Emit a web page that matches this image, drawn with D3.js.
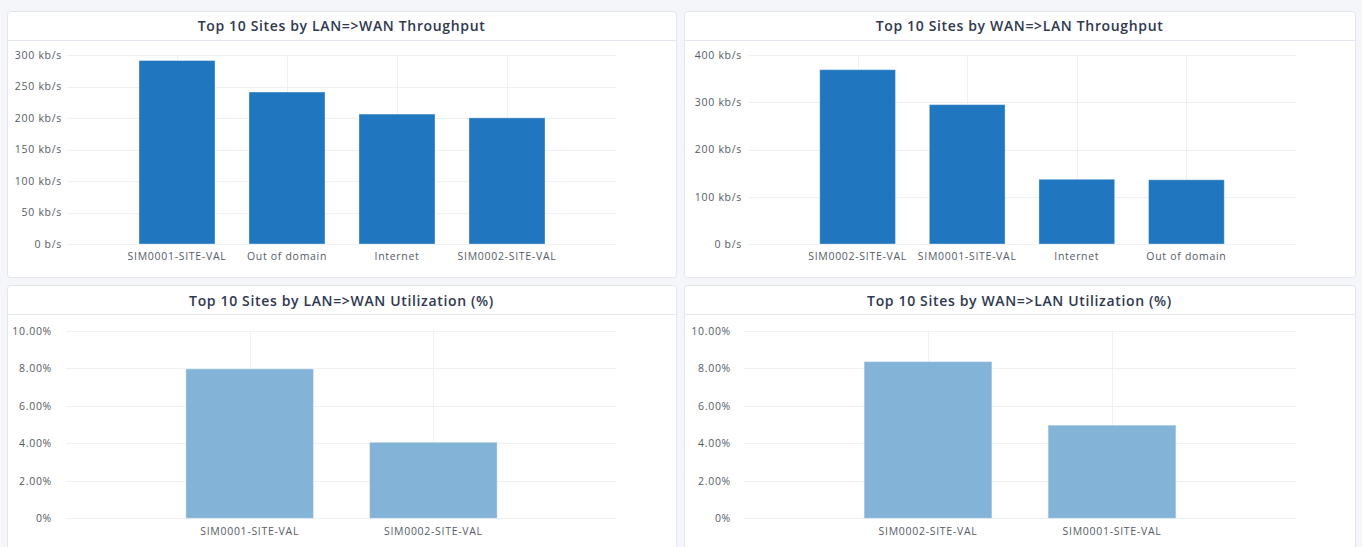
<!DOCTYPE html>
<html>
<head>
<meta charset="utf-8">
<script src="https://cdn.jsdelivr.net/npm/d3@7"></script>
<style>
  html, body { margin: 0; padding: 0; background: #f5f6fa; }
  svg { display: block; }
  .panel-title { font-family: "Open Sans", sans-serif; font-weight: 600; font-size: 14px; fill: #2f3850; letter-spacing: 0.65px; }
  .tick-label { font-family: "Open Sans", sans-serif; font-size: 10.5px; fill: #555b66; letter-spacing: 0.7px; }
</style>
</head>
<body>
<svg id="dash" width="1362" height="547"></svg>
<script>
// ---- data ----
const lanWanThroughputSites = ["SIM0001-SITE-VAL", "Out of domain", "Internet", "SIM0002-SITE-VAL"];
const lanWanThroughputKbps = [292, 242, 207, 201];
const lanWanThroughputTicks = [0, 50, 100, 150, 200, 250, 300];

const wanLanThroughputSites = ["SIM0002-SITE-VAL", "SIM0001-SITE-VAL", "Internet", "Out of domain"];
const wanLanThroughputKbps = [370, 296, 138, 137];
const wanLanThroughputTicks = [0, 100, 200, 300, 400];

const lanWanUtilSites = ["SIM0001-SITE-VAL", "SIM0002-SITE-VAL"];
const lanWanUtilPct = [7.99, 4.08];
const wanLanUtilSites = ["SIM0002-SITE-VAL", "SIM0001-SITE-VAL"];
const wanLanUtilPct = [8.38, 4.99];
const utilTicks = [0, 2, 4, 6, 8, 10];

const titles = [
  "Top 10 Sites by LAN=>WAN Throughput",
  "Top 10 Sites by WAN=>LAN Throughput",
  "Top 10 Sites by LAN=>WAN Utilization (%)",
  "Top 10 Sites by WAN=>LAN Utilization (%)"
];

// ---- formatters ----
const fmtRate = v => v === 0 ? "0 b/s" : v + " kb/s";
const fmtPct = v => v === 0 ? "0%" : v.toFixed(2) + "%";

// ---- panel layout ----
const panels = [
  { x: 7,   y: 11,  w: 669, h: 266, titleY: 25, title: titles[0], cats: lanWanThroughputSites, vals: lanWanThroughputKbps,
    ticks: lanWanThroughputTicks, fmt: fmtRate, color: "#2176c0",
    plot: { x0: 67, x1: 617, y0: 55, y1: 244 }, labelGap: 5 },
  { x: 684, y: 11,  w: 671, h: 266, titleY: 25, title: titles[1], cats: wanLanThroughputSites, vals: wanLanThroughputKbps,
    ticks: wanLanThroughputTicks, fmt: fmtRate, color: "#2176c0",
    plot: { x0: 748, x1: 1296, y0: 55, y1: 244 }, labelGap: 6 },
  { x: 7,   y: 285, w: 669, h: 275, titleY: 300.5, title: titles[2], cats: lanWanUtilSites, vals: lanWanUtilPct,
    ticks: utilTicks, fmt: fmtPct, color: "#84b3d8",
    plot: { x0: 66, x1: 617, y0: 330.7, y1: 518.3 }, labelGap: 14 },
  { x: 684, y: 285, w: 671, h: 275, titleY: 300.5, title: titles[3], cats: wanLanUtilSites, vals: wanLanUtilPct,
    ticks: utilTicks, fmt: fmtPct, color: "#84b3d8",
    plot: { x0: 744, x1: 1296, y0: 330.7, y1: 518.3 }, labelGap: 13 }
];

const svg = d3.select("#dash");

panels.forEach(p => {
  const g = svg.append("g");

  // card
  g.append("rect")
    .attr("x", p.x + 0.5).attr("y", p.y + 0.5)
    .attr("width", p.w).attr("height", p.h)
    .attr("rx", 3).attr("ry", 3)
    .attr("fill", "#ffffff").attr("stroke", "#e2e4ef");

  // title bar divider
  g.append("line")
    .attr("x1", p.x + 1).attr("x2", p.x + p.w)
    .attr("y1", p.y + 29.5).attr("y2", p.y + 29.5)
    .attr("stroke", "#e4e6f1");

  g.append("text")
    .attr("class", "panel-title")
    .attr("x", p.x + p.w / 2).attr("y", p.titleY)
    .attr("text-anchor", "middle").attr("dominant-baseline", "central")
    .text(p.title);

  const x = d3.scaleBand()
    .domain(p.cats)
    .range([p.plot.x0, p.plot.x1])
    .paddingInner(0.3)
    .paddingOuter(0.65);

  const y = d3.scaleLinear()
    .domain([p.ticks[0], p.ticks[p.ticks.length - 1]])
    .range([p.plot.y1, p.plot.y0]);

  // horizontal grid
  g.append("g").selectAll("line").data(p.ticks).join("line")
    .attr("x1", p.plot.x0).attr("x2", p.plot.x1)
    .attr("y1", d => Math.round(y(d)) + 0.5).attr("y2", d => Math.round(y(d)) + 0.5)
    .attr("stroke", "#eef0f4");

  // vertical grid at category centres
  g.append("g").selectAll("line").data(p.cats).join("line")
    .attr("x1", d => Math.round(x(d) + x.bandwidth() / 2) + 0.5)
    .attr("x2", d => Math.round(x(d) + x.bandwidth() / 2) + 0.5)
    .attr("y1", p.plot.y0).attr("y2", p.plot.y1)
    .attr("stroke", "#eef0f4");

  // y axis labels
  const yAxis = d3.axisLeft(y).tickValues(p.ticks).tickFormat(p.fmt).tickSize(0).tickPadding(p.labelGap);
  const ya = g.append("g").attr("transform", `translate(${p.plot.x0},0)`).call(yAxis);
  ya.select(".domain").remove();
  ya.selectAll("text").attr("class", "tick-label").attr("fill", null).attr("font-family", null).attr("font-size", null);

  // bars
  g.append("g").selectAll("rect").data(p.vals).join("rect")
    .attr("x", (d, i) => x(p.cats[i]) + 0.5)
    .attr("width", x.bandwidth() - 1)
    .attr("y", d => y(d) + 0.5)
    .attr("height", d => y(0) - y(d) - 0.5)
    .attr("fill", p.color)
    .attr("stroke", "#ffffff").attr("stroke-opacity", 0.35).attr("stroke-width", 1);

  // x axis labels
  const xAxis = d3.axisBottom(x).tickSize(0).tickPadding(9);
  const xa = g.append("g").attr("transform", `translate(0,${p.plot.y1})`).call(xAxis);
  xa.select(".domain").remove();
  xa.selectAll("text").attr("class", "tick-label").attr("fill", null).attr("font-family", null).attr("font-size", null);
});
</script>
</body>
</html>
